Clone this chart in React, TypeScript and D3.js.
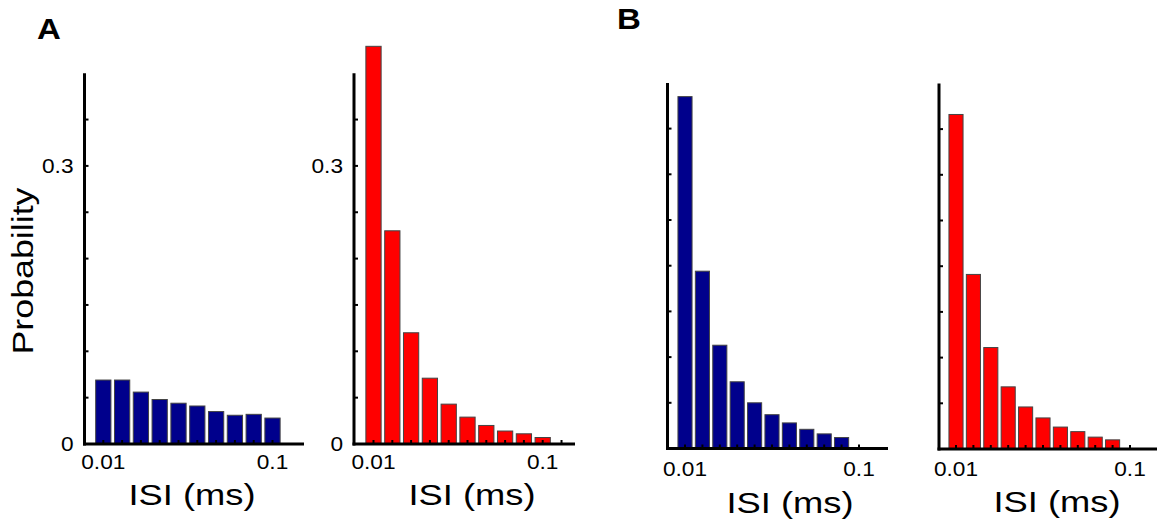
import React from 'react';
import * as d3 from 'd3';

// bin centres (log-spaced ISI bins, ms)
const binsA = [0.01, 0.01292, 0.01668, 0.02154, 0.02783, 0.03594, 0.04642, 0.05995, 0.07743, 0.1, 0.1292];
const binsB = [0.01, 0.01259, 0.01585, 0.01995, 0.02512, 0.03162, 0.03981, 0.05012, 0.0631, 0.07943, 0.1];

// probabilities per bin
const probA1 = [0.069, 0.069, 0.056, 0.048, 0.044, 0.041, 0.035, 0.031, 0.032, 0.028];
const probA2 = [0.429, 0.230, 0.120, 0.071, 0.043, 0.029, 0.020, 0.014, 0.011, 0.007];
const probB1 = [0.385, 0.194, 0.113, 0.073, 0.050, 0.037, 0.028, 0.021, 0.016, 0.012];
const probB2 = [0.366, 0.191, 0.111, 0.068, 0.046, 0.034, 0.024, 0.019, 0.013, 0.010];

const yTicks = [0, 0.05, 0.1, 0.15, 0.2, 0.25, 0.3, 0.35];
const yTickLabels = [0, 0.3];
const xTickLabels = [0.01, 0.1];

const BLUE = '#00008c';
const RED = '#ff0000';
const FONT = '"Liberation Sans", Arial, sans-serif';

const panels = [
  { bins: binsA, probs: probA1, color: BLUE, axisX: 84.5, y0: 444, ppu: 927, xEnd: 304, xr: [103.3, 272.5], nTicks: 10, yLabels: true, labelX: 192, labelY: 505, xlabDy: 24.5 },
  { bins: binsA, probs: probA2, color: RED, axisX: 354, y0: 444, ppu: 927, xEnd: 575, xr: [373.5, 542.7], nTicks: 11, yLabels: true, labelX: 472, labelY: 505, xlabDy: 24.5 },
  { bins: binsB, probs: probB1, color: BLUE, axisX: 667.5, y0: 448.5, ppu: 914, xEnd: 888, xr: [685, 859], nTicks: 11, yLabels: false, labelX: 790, labelY: 513, xlabDy: 27 },
  { bins: binsB, probs: probB2, color: RED, axisX: 939, y0: 449, ppu: 914, xEnd: 1157, xr: [956, 1130], nTicks: 11, yLabels: false, labelX: 1057, labelY: 512, xlabDy: 27 },
];

const Panel = ({ p }) => {
  const y = d3.scaleLinear().domain([0, 0.4]).range([p.y0, p.y0 - 0.4 * p.ppu]);
  const x = d3.scaleLog().domain([0.01, 0.1]).range(p.xr);
  const step = x(p.bins[1]) - x(p.bins[0]);
  const bw = step * 0.81;

  return (
    <g>
      {p.probs.map((v, i) => (
        <rect
          key={i}
          x={x(p.bins[i]) - bw / 2}
          y={y(v)}
          width={bw}
          height={p.y0 - y(v)}
          fill={p.color}
          stroke="#444"
          strokeWidth={1}
        />
      ))}
      {/* y axis */}
      <line x1={p.axisX} x2={p.axisX} y1={y(0.4)} y2={p.y0 + 1.5} stroke="#000" strokeWidth={3} />
      {yTicks.map((t) => (
        <line key={t} x1={p.axisX} x2={p.axisX + 4} y1={y(t)} y2={y(t)} stroke="#000" strokeWidth={2} />
      ))}
      {p.yLabels &&
        yTickLabels.map((t) => (
          <text
            key={t}
            transform={`translate(${p.axisX - 11},${y(t) + 7}) scale(1.08,1)`}
            textAnchor="end"
            fontFamily={FONT}
            fontSize={21}
          >
            {t}
          </text>
        ))}
      {/* x axis */}
      <line x1={p.axisX - 1.5} x2={p.xEnd} y1={p.y0} y2={p.y0} stroke="#000" strokeWidth={3} />
      {p.bins.slice(0, p.nTicks).map((b, i) => (
        <line key={i} x1={x(b)} x2={x(b)} y1={p.y0} y2={p.y0 - 4} stroke="#000" strokeWidth={2} />
      ))}
      {xTickLabels.map((t) => (
        <text
          key={t}
          transform={`translate(${x(t)},${p.y0 + p.xlabDy}) scale(1.08,1)`}
          textAnchor="middle"
          fontFamily={FONT}
          fontSize={21}
        >
          {t}
        </text>
      ))}
      <text
        x={p.labelX}
        y={p.labelY}
        textAnchor="middle"
        fontFamily={FONT}
        fontSize={30}
        textLength={127}
        lengthAdjust="spacingAndGlyphs"
      >
        ISI (ms)
      </text>
    </g>
  );
};

const App = () => {
  return (
    <svg
      width={1158}
      height={521}
      style={{ position: 'fixed', left: 0, top: 0, background: '#fff' }}
    >
      <text x={37} y={39} fontFamily={FONT} fontWeight="bold" fontSize={30} transform="translate(-3.7,0) scale(1.1,1)">
        A
      </text>
      <text x={617} y={29} fontFamily={FONT} fontWeight="bold" fontSize={30} transform="translate(-61.7,0) scale(1.1,1)">
        B
      </text>
      <text
        transform="translate(33,271) rotate(-90)"
        textAnchor="middle"
        fontFamily={FONT}
        fontSize={30}
        textLength={167}
        lengthAdjust="spacingAndGlyphs"
      >
        Probability
      </text>
      {panels.map((p, i) => (
        <Panel key={i} p={p} />
      ))}
    </svg>
  );
};

export default App;
